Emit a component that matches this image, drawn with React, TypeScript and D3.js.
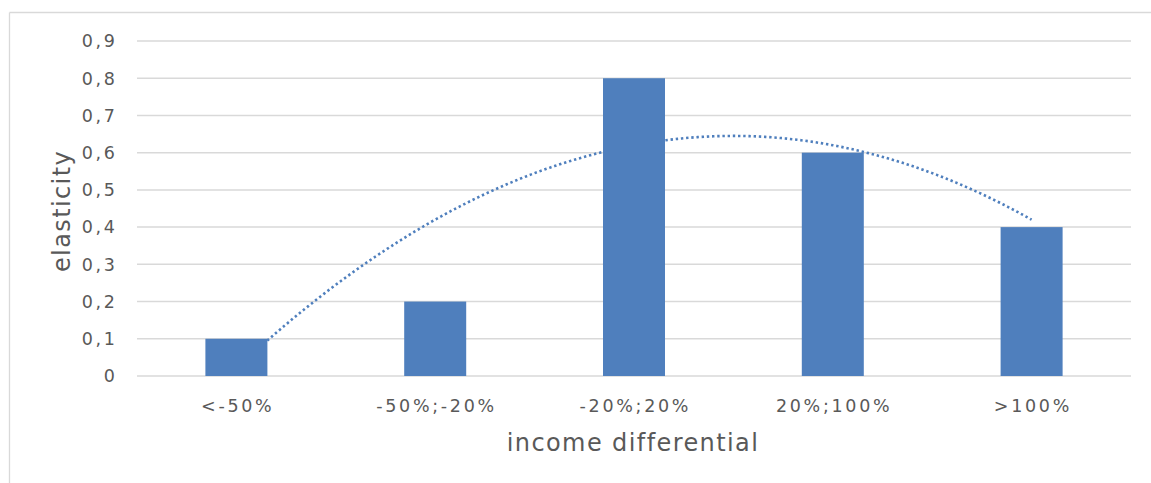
import React from "react";
import * as d3 from "d3";

const categories: string[] = ["<-50%", "-50%;-20%", "-20%;20%", "20%;100%", ">100%"];
const elasticity: number[] = [0.1, 0.2, 0.8, 0.6, 0.4];
const yTicks: number[] = [0, 0.1, 0.2, 0.3, 0.4, 0.5, 0.6, 0.7, 0.8, 0.9];
const xTitle = "income differential";
const yTitle = "elasticity";

const W = 1151;
const H = 483;
const M = { left: 137, right: 1131, top: 41, bottom: 376 };

// least-squares polynomial (order 2) trendline, like Excel
function polyFit2(xs: number[], ys: number[]): [number, number, number] {
  const n = xs.length;
  let s1 = 0, s2 = 0, s3 = 0, s4 = 0, sy = 0, sxy = 0, sx2y = 0;
  xs.forEach((x, i) => {
    const y = ys[i];
    s1 += x; s2 += x * x; s3 += x ** 3; s4 += x ** 4;
    sy += y; sxy += x * y; sx2y += x * x * y;
  });
  const A = [
    [n, s1, s2, sy],
    [s1, s2, s3, sxy],
    [s2, s3, s4, sx2y],
  ];
  for (let i = 0; i < 3; i++) {
    for (let k = i + 1; k < 3; k++) {
      const f = A[k][i] / A[i][i];
      for (let j = i; j < 4; j++) A[k][j] -= f * A[i][j];
    }
  }
  const c = [0, 0, 0];
  for (let i = 2; i >= 0; i--) {
    let s = A[i][3];
    for (let j = i + 1; j < 3; j++) s -= A[i][j] * c[j];
    c[i] = s / A[i][i];
  }
  return [c[0], c[1], c[2]];
}

export default function App() {
  const y = d3.scaleLinear().domain([0, 0.9]).range([M.bottom, M.top]);
  const band = (M.right - M.left) / categories.length;
  const center = (i: number) => M.left + band * (i + 0.5);
  const barW = 62;

  const idx = categories.map((_, i) => i + 1);
  const [a, b, c] = polyFit2(idx, elasticity);
  const samples = d3.range(1, 5.0001, 0.02);
  const line = d3
    .line<number>()
    .x((t) => center(t - 1))
    .y((t) => y(a + b * t + c * t * t));

  const txt = "#595959";
  const grid = "#d9d9d9";
  const blue = "#4f7fbd";
  const font = "DejaVu Sans, Verdana, sans-serif";
  const ls = 2.7;

  return (
    <svg width={W} height={H} style={{ position: "absolute", left: 0, top: 0, background: "#fff" }} fontFamily={font}>
      <rect x={0} y={0} width={W} height={H} fill="#fff" />
      <line x1={9.5} y1={12.5} x2={W} y2={12.5} stroke={grid} strokeWidth={1.3} />
      <line x1={9.5} y1={12.5} x2={9.5} y2={H} stroke={grid} strokeWidth={1.3} />
      {yTicks.map((t) => (
        <g key={t}>
          <line x1={M.left} x2={M.right} y1={y(t)} y2={y(t)} stroke={grid} strokeWidth={1.5} />
          <text x={115 + ls} y={y(t)} dy="0.36em" textAnchor="end" fontSize={17.5} letterSpacing={ls} fill={txt}>
            {t === 0 ? "0" : d3.format(".1f")(t).replace(".", ",")}
          </text>
        </g>
      ))}
      <path d={line(samples) || ""} fill="none" stroke={blue} strokeWidth={2.6} strokeDasharray="2.4 2.8" />
      {categories.map((cat, i) => (
        <rect key={cat} x={center(i) - barW / 2} y={y(elasticity[i])} width={barW} height={y(0) - y(elasticity[i])} fill={blue} />
      ))}
      {categories.map((cat, i) => (
        <text key={cat} x={center(i) + ls / 2} y={412} textAnchor="middle" fontSize={17.5} letterSpacing={ls} fill={txt}>
          {cat}
        </text>
      ))}
      <text x={633} y={451} textAnchor="middle" fontSize={24} letterSpacing={1.4} fill={txt}>
        {xTitle}
      </text>
      <text transform={`translate(70,211) rotate(-90)`} textAnchor="middle" fontSize={24} letterSpacing={1.4} fill={txt}>
        {yTitle}
      </text>
    </svg>
  );
}
